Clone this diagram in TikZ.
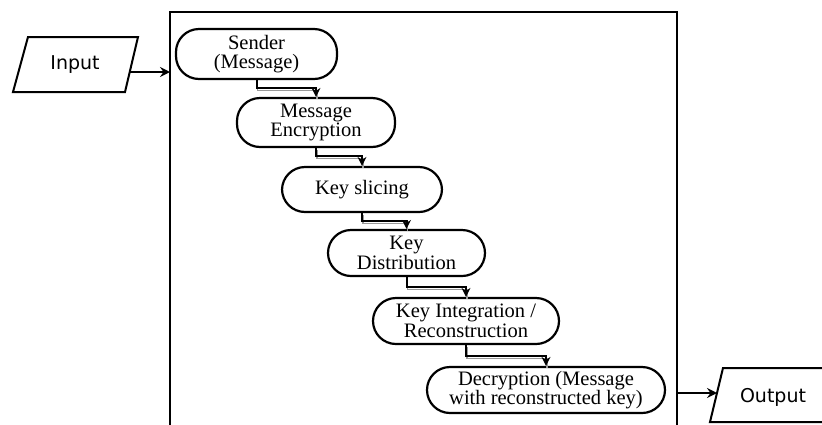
\documentclass[tikz,border=0pt]{standalone}
\usepackage{fontspec}
\setmainfont{Liberation Serif}
\newfontfamily\flowsans{DejaVu Sans}
\usetikzlibrary{arrows.meta}
\tikzset{
  stage/.style={draw, line width=2.2pt, rounded corners=23pt, align=center,
    inner sep=0pt, font=\fontsize{20.5}{19.5}\selectfont},
  io/.style={draw, line width=2pt},
  iotext/.style={font=\flowsans\fontsize{19}{20}\selectfont, inner sep=0pt},
  link/.style={line width=2pt, -{Stealth[length=9pt,width=9pt,inset=3pt]},
    preaction={draw=black!40, line width=1.2pt, -, transform canvas={xshift=1pt,yshift=-2pt}}},
  plain/.style={line width=2pt, -{Stealth[length=10pt,width=10pt,inset=3.5pt]}}
}
\begin{document}
\begin{tikzpicture}[x=1pt,y=-1pt]
\useasboundingbox (0,0) rectangle (822,424);
\clip (0,0) rectangle (822,424);
\fill[white] (0,0) rectangle (822,424);
% outer frame
\coordinate (fTL) at (170,12);
\coordinate (fBR) at (677,440);
\draw[line width=2.4pt] (fTL) rectangle (fBR);
% input parallelogram
\coordinate (i1) at (28,37);
\coordinate (i2) at (138,37);
\coordinate (i3) at (125,92);
\coordinate (i4) at (13,92);
\draw[io] (i1) -- (i2) -- (i3) -- (i4) -- cycle;
\node[iotext] (input) at (75,65) {Input};
% output parallelogram
\coordinate (o1) at (723,368);
\coordinate (o2) at (840,368);
\coordinate (o3) at (827,422);
\coordinate (o4) at (710,422);
\draw[io] (o1) -- (o2) -- (o3) -- (o4) -- cycle;
\node[iotext] (output) at (773,397) {Output};
% stages
\node[stage, minimum width=161pt, minimum height=50pt] (sender) at (256.5,54) {Sender\\(Message)};
\node[stage, minimum width=158pt, minimum height=49pt] (enc) at (316,122.5) {Message\\Encryption};
\node[stage, minimum width=160pt, minimum height=45pt] (slice) at (362,189.5) {Key slicing};
\node[stage, minimum width=157pt, minimum height=46pt] (dist) at (406.5,253) {Key\\Distribution};
\node[stage, minimum width=186pt, minimum height=46pt] (integ) at (466,321) {Key Integration /\\Reconstruction};
\node[stage, minimum width=238pt, minimum height=46pt] (dec) at (546,390) {Decryption (Message\\with reconstructed key)};
% connectors
\draw[link] (sender.south) -- ++(0,8) -| (enc.north);
\draw[link] (enc.south) -- ++(0,8) -| (slice.north);
\draw[link] (slice.south) -- ++(0,8) -| (dist.north);
\draw[link] (dist.south) -- ++(0,10) -| (integ.north);
\draw[link] (integ.south) -- ++(0,11) -| (dec.north);
% input / output arrows
\coordinate (inR) at (129.7,72);
\coordinate (fL) at (170,72);
\draw[plain] (inR) -- (fL);
\coordinate (fR) at (677,393);
\coordinate (outL) at (717,393);
\draw[plain] (fR) -- (outL);
\end{tikzpicture}
\end{document}
